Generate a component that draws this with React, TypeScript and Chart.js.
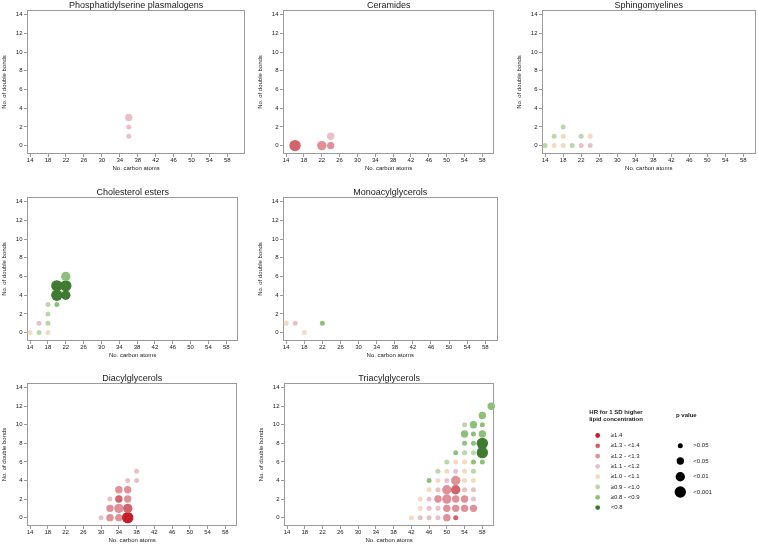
import React, { useEffect, useRef } from "react";
import { Chart, registerables } from "chart.js";

Chart.register(...registerables);

// ---------- data ----------
const X_TICKS = [14, 18, 22, 26, 30, 34, 38, 42, 46, 50, 54, 58];
const Y_TICKS = [0, 2, 4, 6, 8, 10, 12, 14];

// HR classes: 0 = ≥1.4 … 7 = <0.8
const HR_LABELS = [
  "≥1.4",
  "≥1.3 - <1.4",
  "≥1.2 - <1.3",
  "≥1.1 - <1.2",
  "≥1.0 - <1.1",
  "≥0.9 - <1.0",
  "≥0.8 - <0.9",
  "<0.8",
];
// p classes: 0 = >0.05 … 3 = <0.001
const P_LABELS = [">0.05", "<0.05", "<0.01", "<0.001"];

// [carbon atoms, double bonds, HR class, p class]
type Pt = [number, number, number, number];

const PS_PLASMALOGENS: Pt[] = [
  [36, 3, 3, 1], [36, 2, 3, 0], [36, 1, 3, 0],
];
const CERAMIDES: Pt[] = [
  [16, 0, 1, 3], [22, 0, 2, 2], [24, 0, 2, 1], [24, 1, 3, 1],
];
const SPHINGOMYELINES: Pt[] = [
  [14, 0, 5, 0], [16, 0, 4, 0], [16, 1, 5, 0], [18, 0, 4, 0], [18, 1, 4, 0],
  [18, 2, 5, 0], [20, 0, 5, 0], [22, 0, 3, 0], [22, 1, 5, 0], [24, 0, 3, 0],
  [24, 1, 4, 0],
];
const CHOLESTEROL_ESTERS: Pt[] = [
  [14, 0, 4, 0], [16, 0, 5, 0], [16, 1, 3, 0], [18, 0, 4, 0], [18, 1, 5, 0],
  [18, 2, 5, 0], [18, 3, 5, 0], [20, 3, 6, 0], [20, 4, 7, 3], [20, 5, 7, 3],
  [22, 4, 7, 2], [22, 5, 7, 3], [22, 6, 6, 2],
];
const MONOACYLGLYCEROLS: Pt[] = [
  [14, 1, 4, 0], [16, 1, 3, 0], [18, 0, 4, 0], [22, 1, 6, 0],
];
const DIACYLGLYCEROLS: Pt[] = [
  [30, 0, 3, 0], [32, 0, 2, 1], [32, 1, 2, 1], [32, 2, 3, 0],
  [34, 0, 2, 1], [34, 1, 2, 2], [34, 2, 1, 1], [34, 3, 2, 1],
  [36, 0, 0, 3], [36, 1, 1, 2], [36, 2, 2, 1], [36, 3, 2, 1], [36, 4, 3, 0],
  [38, 4, 3, 0], [38, 5, 3, 0],
];
const TRIACYLGLYCEROLS: Pt[] = [
  [42, 0, 4, 0], [44, 0, 3, 0], [46, 0, 3, 0], [48, 0, 3, 0], [50, 0, 2, 1], [52, 0, 1, 0],
  [44, 1, 4, 0], [46, 1, 3, 0], [48, 1, 3, 0], [50, 1, 2, 1], [52, 1, 2, 1], [54, 1, 2, 1], [56, 1, 2, 1],
  [44, 2, 4, 0], [46, 2, 3, 0], [48, 2, 2, 1], [50, 2, 2, 2], [52, 2, 2, 1], [54, 2, 2, 1], [56, 2, 3, 0],
  [46, 3, 4, 0], [48, 3, 3, 0], [50, 3, 2, 2], [52, 3, 1, 2], [54, 3, 3, 0], [56, 3, 3, 0],
  [46, 4, 6, 0], [48, 4, 4, 0], [50, 4, 3, 0], [52, 4, 2, 2], [54, 4, 4, 0], [56, 4, 4, 0],
  [48, 5, 5, 0], [50, 5, 4, 0], [52, 5, 3, 0], [54, 5, 4, 0], [56, 5, 5, 0],
  [50, 6, 5, 0], [52, 6, 4, 0], [54, 6, 4, 0], [56, 6, 6, 0], [58, 6, 6, 0],
  [52, 7, 6, 0], [54, 7, 5, 0], [56, 7, 5, 0], [58, 7, 7, 3],
  [54, 8, 6, 0], [56, 8, 6, 0], [58, 8, 7, 3],
  [54, 9, 6, 1], [56, 9, 6, 0], [58, 9, 6, 1],
  [54, 10, 5, 0], [56, 10, 6, 1], [58, 10, 6, 0],
  [58, 11, 6, 1],
  [60, 12, 6, 1],
];

// ---------- styles ----------
const HR_COLORS = [
  "#c41f2b", "#d3636b", "#df9098", "#eac0c8",
  "#f3dbc3", "#bad6ab", "#8fc07b", "#3f7b31",
];
const P_RADII = [2.5, 3.7, 4.7, 5.7];
const FONT = '"Liberation Sans", Arial, Helvetica, sans-serif';
const TEXT = "#1a1a1a";
const FRAME = "#9a9a9a";

const X_MIN = 13.3;
const Y_MIN = -0.9;
const Y_MAX = 14.5;

const Y_AXIS_W = 30;
const X_AXIS_H = 20;
const PAD_T = 12;
const PAD_R = 2;
const PAD_B = 2;

type PanelDef = {
  title: string;
  data: Pt[];
  l: number; t: number; r: number; b: number;
  xMax: number;
};

const PANELS: PanelDef[] = [
  { title: "Phosphatidylserine plasmalogens", data: PS_PLASMALOGENS, l: 27, t: 10, r: 247, b: 154, xMax: 62 },
  { title: "Ceramides", data: CERAMIDES, l: 283, t: 10, r: 498, b: 154, xMax: 60.7 },
  { title: "Sphingomyelines", data: SPHINGOMYELINES, l: 542, t: 10, r: 756, b: 154, xMax: 60.7 },
  { title: "Cholesterol esters", data: CHOLESTEROL_ESTERS, l: 27, t: 197, r: 242, b: 341, xMax: 60.7 },
  { title: "Monoacylglycerols", data: MONOACYLGLYCEROLS, l: 283, t: 197, r: 498, b: 341, xMax: 60.7 },
  { title: "Diacylglycerols", data: DIACYLGLYCEROLS, l: 27, t: 383, r: 241, b: 526, xMax: 60.7 },
  { title: "Triacylglycerols", data: TRIACYLGLYCEROLS, l: 284, t: 383, r: 498, b: 526, xMax: 60.7 },
];

const framePlugin = {
  id: "panelFrame",
  beforeDatasetsDraw(chart: any, _args: any, opts: any) {
    const { ctx, chartArea } = chart;
    const { left, top, right, bottom } = chartArea;
    ctx.save();
    ctx.strokeStyle = FRAME;
    ctx.lineWidth = 1;
    ctx.strokeRect(Math.round(left) + 0.5, Math.round(top) + 0.5, Math.round(right - left) - 1, Math.round(bottom - top) - 1);
    ctx.fillStyle = TEXT;
    ctx.font = `9px ${FONT}`;
    ctx.textAlign = "center";
    ctx.textBaseline = "alphabetic";
    ctx.fillText(opts.title, (left + right) / 2, top - 2.3);
    ctx.restore();
  },
};

function Panel({ p }: { p: PanelDef }) {
  const ref = useRef<HTMLCanvasElement>(null);
  const W = p.r - p.l + Y_AXIS_W + PAD_R;
  const H = p.b - p.t + PAD_T + X_AXIS_H + PAD_B;

  useEffect(() => {
    const tickFont = { size: 6, family: FONT };
    const chart = new Chart(ref.current as HTMLCanvasElement, {
      type: "scatter",
      data: {
        datasets: [
          {
            data: p.data.map((d) => ({ x: d[0], y: d[1] })),
            pointBackgroundColor: p.data.map((d) => HR_COLORS[d[2]]),
            pointRadius: p.data.map((d) => P_RADII[d[3]]),
            pointBorderWidth: 0,
            pointHoverRadius: p.data.map((d) => P_RADII[d[3]]),
            clip: false,
          } as any,
        ],
      },
      options: {
        animation: false,
        responsive: false,
        events: [],
        layout: { padding: { top: PAD_T, right: PAD_R, bottom: PAD_B, left: 0 } },
        plugins: {
          legend: { display: false },
          tooltip: { enabled: false },
          panelFrame: { title: p.title },
        } as any,
        scales: {
          x: {
            type: "linear",
            min: X_MIN,
            max: p.xMax,
            afterBuildTicks: (s: any) => {
              s.ticks = X_TICKS.map((v) => ({ value: v }));
            },
            afterFit: (s: any) => {
              s.height = X_AXIS_H;
            },
            grid: { display: true, drawOnChartArea: false, drawTicks: true, tickLength: 3, color: FRAME },
            border: { display: false },
            ticks: { font: tickFont, color: TEXT, padding: 0, maxRotation: 0, autoSkip: false },
            title: { display: true, text: "No. carbon atoms", font: tickFont, color: TEXT, padding: { top: 0, bottom: 2 } },
          },
          y: {
            type: "linear",
            min: Y_MIN,
            max: Y_MAX,
            afterBuildTicks: (s: any) => {
              s.ticks = Y_TICKS.map((v) => ({ value: v }));
            },
            afterFit: (s: any) => {
              s.width = Y_AXIS_W;
            },
            grid: { display: true, drawOnChartArea: false, drawTicks: true, tickLength: 3, color: FRAME },
            border: { display: false },
            ticks: { font: tickFont, color: TEXT, padding: 1.5, autoSkip: false },
            title: { display: true, text: "No. of double bonds", font: tickFont, color: TEXT, padding: { top: 3.5, bottom: 0 } },
          },
        },
      } as any,
      plugins: [framePlugin],
    });
    return () => chart.destroy();
  }, []);

  return (
    <div style={{ position: "absolute", left: p.l - Y_AXIS_W, top: p.t - PAD_T, width: W, height: H }}>
      <canvas ref={ref} width={W} height={H} style={{ width: W, height: H, display: "block" }} />
    </div>
  );
}

// Legend drawn on its own canvas (page coordinates offset by LEG_X / LEG_Y)
const LEG_X = 570;
const LEG_Y = 400;
const LEG_W = 150;
const LEG_H = 120;

function Legend() {
  const ref = useRef<HTMLCanvasElement>(null);
  useEffect(() => {
    const c = ref.current as HTMLCanvasElement;
    const ctx = c.getContext("2d") as CanvasRenderingContext2D;
    ctx.clearRect(0, 0, LEG_W, LEG_H);
    const X = (v: number) => v - LEG_X;
    const Y = (v: number) => v - LEG_Y;
    ctx.fillStyle = TEXT;
    ctx.textBaseline = "middle";
    ctx.font = `bold 6px ${FONT}`;
    ctx.textAlign = "center";
    ctx.fillText("HR for 1 SD higher", X(616), Y(412));
    ctx.fillText("lipid concentration", X(616), Y(419.3));
    ctx.textAlign = "left";
    ctx.fillText("p value", X(676), Y(415.7));
    ctx.font = `6px ${FONT}`;
    const hrY0 = 435.5;
    const hrStep = 10.3;
    HR_LABELS.forEach((lab, i) => {
      const cy = hrY0 + i * hrStep;
      ctx.fillStyle = HR_COLORS[i];
      ctx.beginPath();
      ctx.arc(X(597.7), Y(cy), 2.4, 0, Math.PI * 2);
      ctx.fill();
      ctx.fillStyle = TEXT;
      ctx.fillText(lab, X(610.7), Y(cy));
    });
    const pYs = [445.7, 461, 476.7, 492];
    P_LABELS.forEach((lab, i) => {
      const cy = pYs[i];
      ctx.fillStyle = "#000";
      ctx.beginPath();
      ctx.arc(X(680.3), Y(cy), P_RADII[i], 0, Math.PI * 2);
      ctx.fill();
      ctx.fillStyle = TEXT;
      ctx.fillText(lab, X(693.3), Y(cy));
    });
  }, []);
  return (
    <canvas
      ref={ref}
      width={LEG_W}
      height={LEG_H}
      style={{ position: "absolute", left: LEG_X, top: LEG_Y, width: LEG_W, height: LEG_H, display: "block" }}
    />
  );
}

export default function App() {
  return (
    <div style={{ position: "absolute", left: 0, top: 0, width: 758, height: 544, background: "#fff", overflow: "hidden" }}>
      {PANELS.map((p) => (
        <Panel key={p.title} p={p} />
      ))}
      <Legend />
    </div>
  );
}
